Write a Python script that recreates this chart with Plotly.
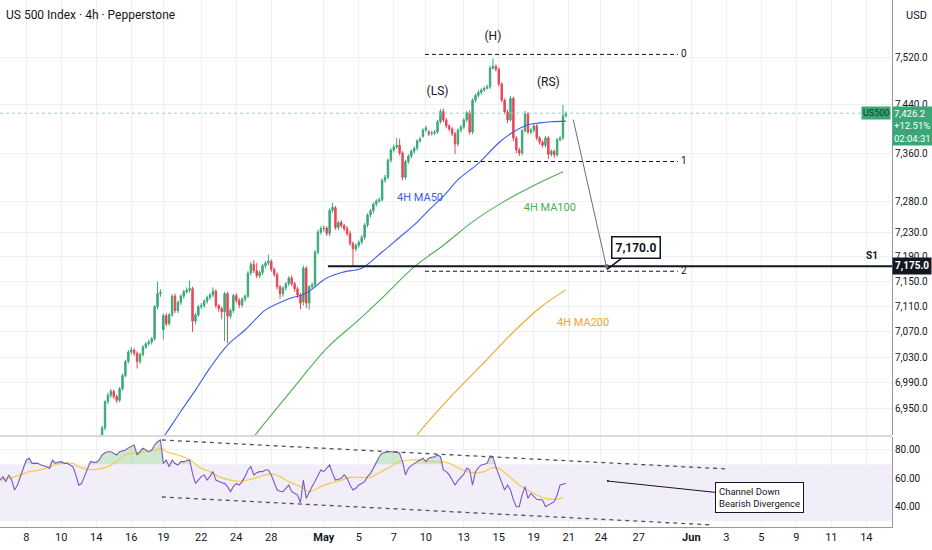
import numpy as np
import plotly.graph_objects as go

# US500 4h candles, x = bar number (6 bars per trading day)
first_bar = 35
opens = [6906, 6919, 6960, 6970, 6976, 6968, 6962, 6980, 7001, 7023,
         7038, 7041, 7036, 7023, 7034, 7046, 7051, 7054, 7059, 7110,
         7131, 7073, 7096, 7083, 7097, 7127, 7104, 7117, 7127, 7134,
         7137, 7139, 7087, 7097, 7110, 7112, 7119, 7125, 7129, 7135,
         7112, 7107, 7102, 7131, 7095, 7104, 7128, 7120, 7113, 7122,
         7127, 7164, 7178, 7168, 7160, 7165, 7176, 7180, 7183, 7170,
         7162, 7142, 7131, 7140, 7147, 7156, 7147, 7139, 7129, 7118,
         7172, 7116, 7142, 7145, 7198, 7230, 7236, 7237, 7228, 7266,
         7270, 7238, 7246, 7241, 7236, 7228, 7212, 7203, 7209, 7214,
         7222, 7242, 7258, 7265, 7276, 7281, 7283, 7315, 7320, 7348,
         7365, 7370, 7373, 7360, 7320, 7346, 7355, 7363, 7368, 7380,
         7388, 7398, 7395, 7392, 7393, 7395, 7412, 7429, 7415, 7405,
         7400, 7392, 7375, 7398, 7403, 7415, 7427, 7395, 7448, 7456,
         7461, 7465, 7468, 7470, 7502, 7505, 7500, 7475, 7448, 7428,
         7415, 7451, 7385, 7365, 7360, 7397, 7425, 7395, 7398, 7405,
         7385, 7378, 7373, 7385, 7358, 7363, 7357, 7382, 7385, 7422]
highs = [6922, 6962, 6974, 6980, 6979, 6971, 6983, 7004, 7026, 7041,
         7046, 7044, 7039, 7037, 7049, 7054, 7058, 7062, 7113, 7150,
         7138, 7099, 7100, 7100, 7130, 7131, 7120, 7130, 7137, 7141,
         7152, 7142, 7100, 7113, 7116, 7122, 7128, 7132, 7141, 7138,
         7114, 7110, 7134, 7134, 7107, 7131, 7132, 7124, 7125, 7130,
         7167, 7182, 7185, 7180, 7168, 7179, 7184, 7194, 7186, 7173,
         7165, 7145, 7143, 7150, 7159, 7160, 7150, 7142, 7132, 7176,
         7175, 7145, 7149, 7201, 7234, 7240, 7241, 7240, 7269, 7278,
         7273, 7249, 7250, 7244, 7240, 7232, 7215, 7212, 7217, 7226,
         7245, 7261, 7268, 7279, 7284, 7287, 7318, 7324, 7351, 7368,
         7374, 7385, 7384, 7363, 7349, 7358, 7366, 7371, 7383, 7387,
         7401, 7405, 7398, 7397, 7398, 7415, 7433, 7434, 7418, 7408,
         7403, 7395, 7401, 7407, 7418, 7430, 7431, 7451, 7459, 7465,
         7468, 7471, 7474, 7506, 7518, 7508, 7503, 7478, 7451, 7432,
         7455, 7454, 7388, 7369, 7400, 7430, 7428, 7402, 7409, 7408,
         7388, 7381, 7388, 7388, 7366, 7366, 7385, 7388, 7440, 7429]
lows = [6900, 6915, 6956, 6966, 6964, 6958, 6959, 6977, 6998, 7020,
        7034, 7032, 7012, 7019, 7031, 7043, 7048, 7050, 7056, 7106,
        7126, 7058, 7079, 7080, 7094, 7100, 7100, 7113, 7123, 7131,
        7133, 7070, 7082, 7094, 7106, 7108, 7115, 7121, 7125, 7108,
        7102, 7090, 7055, 7052, 7091, 7100, 7116, 7108, 7109, 7118,
        7124, 7160, 7164, 7156, 7156, 7161, 7172, 7176, 7166, 7158,
        7138, 7123, 7126, 7136, 7143, 7143, 7134, 7124, 7106, 7112,
        7108, 7106, 7138, 7141, 7194, 7226, 7231, 7224, 7224, 7262,
        7234, 7233, 7237, 7232, 7224, 7208, 7175, 7199, 7205, 7210,
        7218, 7238, 7254, 7261, 7272, 7278, 7280, 7311, 7317, 7344,
        7361, 7367, 7356, 7315, 7316, 7342, 7351, 7359, 7364, 7377,
        7385, 7395, 7388, 7389, 7390, 7392, 7409, 7411, 7401, 7396,
        7388, 7358, 7371, 7394, 7400, 7411, 7391, 7391, 7444, 7452,
        7457, 7462, 7466, 7467, 7499, 7496, 7471, 7444, 7424, 7410,
        7412, 7380, 7360, 7355, 7356, 7394, 7391, 7391, 7394, 7381,
        7374, 7369, 7369, 7350, 7354, 7352, 7354, 7379, 7382, 7419]
closes = [6919, 6960, 6970, 6976, 6968, 6962, 6980, 7001, 7023, 7038,
          7041, 7036, 7023, 7034, 7046, 7051, 7054, 7059, 7110, 7131,
          7133, 7096, 7083, 7097, 7127, 7104, 7117, 7127, 7134, 7137,
          7139, 7087, 7097, 7110, 7112, 7119, 7125, 7129, 7135, 7112,
          7107, 7102, 7131, 7095, 7104, 7128, 7120, 7113, 7122, 7127,
          7164, 7178, 7168, 7160, 7165, 7176, 7180, 7183, 7170, 7162,
          7142, 7131, 7140, 7147, 7156, 7147, 7139, 7129, 7116, 7172,
          7116, 7142, 7145, 7198, 7230, 7236, 7237, 7228, 7266, 7271,
          7238, 7246, 7241, 7236, 7228, 7212, 7203, 7209, 7214, 7222,
          7242, 7258, 7265, 7276, 7281, 7283, 7315, 7320, 7348, 7365,
          7370, 7373, 7360, 7320, 7346, 7355, 7363, 7368, 7380, 7383,
          7398, 7402, 7392, 7393, 7395, 7412, 7429, 7415, 7405, 7400,
          7392, 7375, 7398, 7403, 7415, 7427, 7395, 7448, 7456, 7461,
          7465, 7468, 7470, 7502, 7505, 7500, 7475, 7448, 7428, 7415,
          7451, 7385, 7365, 7360, 7397, 7425, 7395, 7398, 7405, 7385,
          7378, 7373, 7385, 7358, 7363, 7357, 7382, 7385, 7422, 7426.2]
bars = list(range(first_bar, first_bar + len(closes)))
change_pct = "+12.51%"
countdown = "02:04:31"

# moving averages (bar, value)
ma50_bars = [54, 57, 62, 67, 72, 78, 84, 88, 91, 98, 105, 112, 118, 124, 131,
             137, 142, 147, 153, 157, 164, 171, 176, 181, 185, 189, 194]
ma50_vals = [6892, 6911, 6945, 6978, 7013, 7049, 7073, 7092, 7105, 7121, 7132,
             7156, 7166, 7172, 7198, 7222, 7242, 7266, 7294, 7316, 7343, 7377,
             7395, 7407, 7410, 7412, 7413]
ma100_bars = [85, 88, 91, 100, 112, 123, 131, 142, 152, 162, 172, 182, 193]
ma100_vals = [6892, 6911, 6928, 6978, 7044, 7089, 7124, 7174, 7209, 7247, 7278, 7304, 7329]
ma200_bars = [141, 143, 155, 165, 175, 185, 194]
ma200_vals = [6895, 6908, 6970, 7017, 7065, 7108, 7137]

# RSI, one value per bar from bar 0
rsi = [58.9, 61.3, 57.8, 62.5, 58.9, 51.9, 55.4, 61.3, 67.0, 73.0,
       74.2, 70.6, 70.8, 70.6, 69.5, 69.0, 68.3, 67.1, 73.0, 70.6,
       71.5, 71.8, 70.6, 70.6, 69.5, 68.3, 62.5, 55.4, 56.6, 61.3,
       66.0, 71.8, 71.5, 71.3, 73.0, 76.5, 78.0, 78.8, 78.8, 77.7,
       76.5, 78.8, 79.5, 80.0, 81.5, 82.3, 83.5, 76.5, 78.8, 81.2,
       80.0, 78.8, 80.0, 83.5, 85.8, 87.0, 70.6, 73.0, 68.3, 73.0,
       70.5, 69.5, 71.8, 71.8, 72.5, 73.0, 63.6, 56.6, 58.9, 61.3,
       62.5, 58.9, 61.5, 64.8, 58.9, 57.8, 57.0, 56.6, 54.3, 50.8,
       54.3, 56.6, 55.4, 57.8, 61.3, 66.0, 68.3, 62.5, 64.0, 64.8,
       64.8, 66.0, 66.0, 62.5, 57.8, 51.9, 51.0, 50.8, 53.1, 55.4,
       50.8, 49.5, 48.4, 43.0, 58.9, 46.1, 50.8, 54.3, 58.0, 62.5,
       66.0, 64.8, 67.1, 69.5, 63.6, 58.9, 59.5, 60.1, 62.5, 60.1,
       55.4, 51.9, 53.1, 55.4, 56.5, 57.8, 61.3, 63.6, 67.1, 71.8,
       75.3, 77.7, 78.5, 78.8, 78.8, 78.8, 78.5, 77.7, 71.8, 62.5,
       67.1, 69.0, 70.6, 71.8, 73.0, 74.2, 71.8, 74.2, 74.8, 75.3,
       76.5, 75.3, 66.0, 64.8, 62.5, 58.5, 55.4, 58.5, 60.5, 63.0,
       67.1, 66.0, 55.4, 64.8, 67.5, 69.5, 70.0, 70.6, 75.8, 75.3,
       68.0, 62.5, 56.0, 51.9, 55.4, 51.9, 45.0, 40.2, 40.2, 48.4,
       54.3, 46.1, 49.6, 47.5, 45.4, 45.2, 44.9, 40.2, 41.5, 42.6,
       43.7, 48.4, 55.4, 56.0, 56.6]
rsi_bars = list(range(len(rsi)))
rsi_ma_bars = [0, 3, 7, 10, 14, 17, 21, 25, 27, 30, 33, 37, 40, 43, 47, 50, 54, 55, 57, 61,
               64, 66, 69, 72, 75, 79, 82, 86, 89, 93, 96, 99, 103, 106, 110, 113, 117, 120, 123, 127,
               130, 134, 137, 141, 144, 147, 151, 154, 158, 162, 166, 169, 171, 174, 178, 183, 187, 191, 193]
rsi_ma = [58.9, 60.1, 62.5, 64.8, 66.0, 68.3, 70.6, 70.6, 68.3, 66.4, 66.4, 68.3, 71.8, 76.5, 78.1, 78.8, 80.0, 81.2, 78.8, 76.5,
          74.2, 71.8, 67.1, 64.8, 61.3, 58.9, 58.2, 59.4, 61.3, 63.2, 61.3, 57.8, 54.3, 50.8, 54.3, 56.6, 58.9, 60.8, 60.8, 60.8,
          64.1, 68.3, 71.8, 73.0, 73.0, 71.8, 71.8, 70.6, 66.5, 64.1, 64.8, 67.6, 67.1, 62.5, 55.4, 49.6, 46.1, 45.4, 46.8]

# axes
date_ticks = [9, 21, 33, 45, 56, 69, 81, 93, 111, 123, 135, 146, 159, 171, 183, 195,
              206, 219, 237, 249, 261, 273, 285, 297]
date_labels = ["8", "10", "14", "16", "19", "22", "24", "28", "<b>May</b>", "5", "7", "10",
               "13", "15", "19", "21", "24", "27", "<b>Jun</b>", "3", "5", "9", "11", "14"]
price_ticks = [6950, 6990, 7030, 7070, 7110, 7150, 7190, 7230, 7280, 7360, 7440, 7520]
rsi_ticks = [40, 60, 80]

# drawings
fib_levels = [7525, 7346, 7167]
fib_names = ["0", "1", "2"]
s1_level = 7175
target = 7170.0

UP, DOWN = "#3aa876", "#e84656"
BLUE, GREEN, ORANGE = "#3d5ce6", "#4caf50", "#f5a623"
PURPLE, YELLOW = "#7e57c2", "#f2cc4f"
GRID = "#eef0f4"
INK = "#131722"
FONT = "Roboto"
x_max = 305.8
lg = np.log10

fig = go.Figure()

fig.add_trace(go.Candlestick(
    x=bars, open=opens, high=highs, low=lows, close=closes,
    increasing=dict(line=dict(color=UP, width=1), fillcolor=UP),
    decreasing=dict(line=dict(color=DOWN, width=1), fillcolor=DOWN),
    whiskerwidth=0, hoverinfo="skip", xaxis="x", yaxis="y",
))

for bx, vals, col in [(ma50_bars, ma50_vals, BLUE), (ma100_bars, ma100_vals, GREEN),
                      (ma200_bars, ma200_vals, ORANGE)]:
    fig.add_trace(go.Scatter(x=bx, y=vals, mode="lines",
                             line=dict(color=col, width=1.1, shape="spline"),
                             hoverinfo="skip", xaxis="x", yaxis="y"))

# current price dotted line
fig.add_trace(go.Scatter(x=[0, x_max], y=[closes[-1], closes[-1]], mode="lines",
                         line=dict(color="#a6cfc0", width=1, dash="dot"),
                         hoverinfo="skip", xaxis="x", yaxis="y"))

# fib extension levels
for lvl in fib_levels:
    fig.add_trace(go.Scatter(x=[145.7, 232.4], y=[lvl, lvl], mode="lines",
                             line=dict(color=INK, width=1, dash="4px,3px"),
                             hoverinfo="skip", xaxis="x", yaxis="y"))
fig.add_trace(go.Scatter(x=[233.5] * 3, y=fib_levels, mode="text", text=fib_names,
                         textposition="middle right", textfont=dict(size=10, color=INK),
                         hoverinfo="skip", xaxis="x", yaxis="y"))

# S1 support
fig.add_trace(go.Scatter(x=[112.4, x_max], y=[s1_level, s1_level], mode="lines",
                         line=dict(color=INK, width=2), hoverinfo="skip", xaxis="x", yaxis="y"))

# head and shoulders labels
fig.add_trace(go.Scatter(x=[150, 169, 188], y=[7462, 7554, 7477], mode="text",
                         text=["(LS)", "(H)", "(RS)"], textfont=dict(size=12, color=INK),
                         hoverinfo="skip", xaxis="x", yaxis="y"))

# MA labels
fig.add_trace(go.Scatter(x=[144, 188.5, 199.9], y=[7286, 7269, 7084], mode="text",
                         text=["4H MA50", "4H MA100", "4H MA200"],
                         textfont=dict(size=11, color=[BLUE, GREEN, ORANGE]),
                         hoverinfo="skip", xaxis="x", yaxis="y"))

# RSI pane
fig.add_shape(type="rect", xref="paper", yref="y2", x0=0, x1=1, y0=30, y1=70,
              fillcolor="rgba(126,87,194,0.1)", line=dict(width=0), layer="below")
fig.add_trace(go.Scatter(x=rsi_bars, y=[70] * len(rsi), mode="lines",
                         line=dict(width=0), hoverinfo="skip", xaxis="x", yaxis="y2"))
fig.add_trace(go.Scatter(x=rsi_bars, y=np.maximum(rsi, 70), mode="lines", fill="tonexty",
                         fillcolor="rgba(76,175,80,0.28)", line=dict(width=0),
                         hoverinfo="skip", xaxis="x", yaxis="y2"))
fig.add_trace(go.Scatter(x=rsi_ma_bars, y=rsi_ma, mode="lines",
                         line=dict(color=YELLOW, width=1.2, shape="spline"),
                         hoverinfo="skip", xaxis="x", yaxis="y2"))
fig.add_trace(go.Scatter(x=rsi_bars, y=rsi, mode="lines", line=dict(color=PURPLE, width=1.1),
                         hoverinfo="skip", xaxis="x", yaxis="y2"))
for cx, cy in [([55.5, 249.2], [87.0, 66.7]), ([55.5, 244.4], [47.0, 27.4])]:
    fig.add_trace(go.Scatter(x=cx, y=cy, mode="lines",
                             line=dict(color="#50535e", width=1.3, dash="4px,4px"),
                             hoverinfo="skip", xaxis="x", yaxis="y2"))

annotations = [
    dict(text="US 500 Index · 4h · Pepperstone", xref="paper", yref="paper", x=0.005, y=1,
         xanchor="left", yanchor="top", yshift=-6, showarrow=False, font=dict(size=12, color=INK)),
    dict(text="USD", xref="paper", yref="paper", x=1, y=1, xanchor="left", yanchor="top",
         xshift=12, yshift=-7, showarrow=False, font=dict(size=11, color=INK)),
    dict(text=f"{closes[-1]:,.1f}<br>{change_pct}<br>{countdown}", xref="paper", yref="y", x=1,
         y=lg(closes[-1]), xanchor="left", yanchor="top", yshift=7, showarrow=False,
         bgcolor=UP, borderpad=1, align="left", width=38, font=dict(size=9.5, color="white")),
    dict(text="US500", xref="paper", yref="y", x=1, y=lg(closes[-1]), xanchor="right",
         xshift=-1, showarrow=False, bgcolor=UP, borderpad=1, font=dict(size=9, color="#0d3b2b")),
    dict(text=f"<b>{s1_level:,.1f}</b>", xref="paper", yref="y", x=1, y=lg(s1_level),
         xanchor="left", showarrow=False, bgcolor=INK, borderpad=2,
         font=dict(size=10, color="white")),
    dict(text="<b>S1</b>", xref="paper", yref="y", x=0.987, y=lg(s1_level), yanchor="bottom",
         yshift=3, showarrow=False, font=dict(size=10, color=INK)),
    dict(text="", x=208.1, y=lg(target), ax=196.4, ay=lg(7418), xref="x", yref="y",
         axref="x", ayref="y", showarrow=True, arrowhead=2, arrowsize=1, arrowwidth=1,
         arrowcolor="#6a6d78"),
    dict(text=f"<b>{target:,.1f}</b>", x=208.1, y=lg(target), xref="x", yref="y",
         ax=29, ay=-22, showarrow=True, arrowhead=0, arrowwidth=1.5, arrowcolor=INK,
         bgcolor="white", bordercolor=INK, borderwidth=1.5, borderpad=3,
         font=dict(size=12, color=INK)),
    dict(text="Channel Down<br>Bearish Divergence", x=208.4, y=58.2, xref="x", yref="y2",
         ax=152, ay=16, showarrow=True, arrowhead=6, arrowsize=0.5, arrowwidth=1,
         arrowcolor=INK, bgcolor="white", bordercolor=INK, borderwidth=1, borderpad=3,
         align="left", font=dict(size=9.5, color=INK)),
]

fig.update_layout(
    width=932, height=550,
    margin=dict(l=0, r=40, t=0, b=23),
    paper_bgcolor="white", plot_bgcolor="white",
    showlegend=False,
    font=dict(family=FONT, color=INK),
    annotations=annotations,
    xaxis=dict(range=[0, x_max], tickvals=date_ticks, ticktext=date_labels,
               showgrid=True, gridcolor=GRID, zeroline=False, showline=True,
               linecolor="#9598a1", ticks="", tickfont=dict(size=11, color=INK),
               anchor="y2", rangeslider=dict(visible=False), fixedrange=True),
    yaxis=dict(type="log", domain=[0.1746, 1], range=[lg(6908), lg(7617.6)], side="right",
               tickvals=price_ticks, ticktext=[f"{v:,.1f}" for v in price_ticks],
               showgrid=True, gridcolor=GRID, zeroline=False, showline=True,
               linecolor="#9598a1", ticks="", tickfont=dict(size=10, color=INK), anchor="x"),
    yaxis2=dict(domain=[0, 0.1708], range=[25.96, 89.12], side="right",
                tickvals=rsi_ticks, ticktext=[f"{v:.2f}" for v in rsi_ticks],
                showgrid=True, gridcolor=GRID, zeroline=False, showline=True,
                linecolor="#9598a1", ticks="", tickfont=dict(size=10, color=INK), anchor="x"),
)

# pane separator
fig.add_shape(type="line", xref="paper", yref="paper", x0=0, x1=1, y0=0.1727, y1=0.1727,
              line=dict(color="#b2b5be", width=1))

# the page's default body margin would push the chart 8px off the window
fig.write_html("out.html", config={"displayModeBar": False},
               post_script="document.body.style.margin='0';")
